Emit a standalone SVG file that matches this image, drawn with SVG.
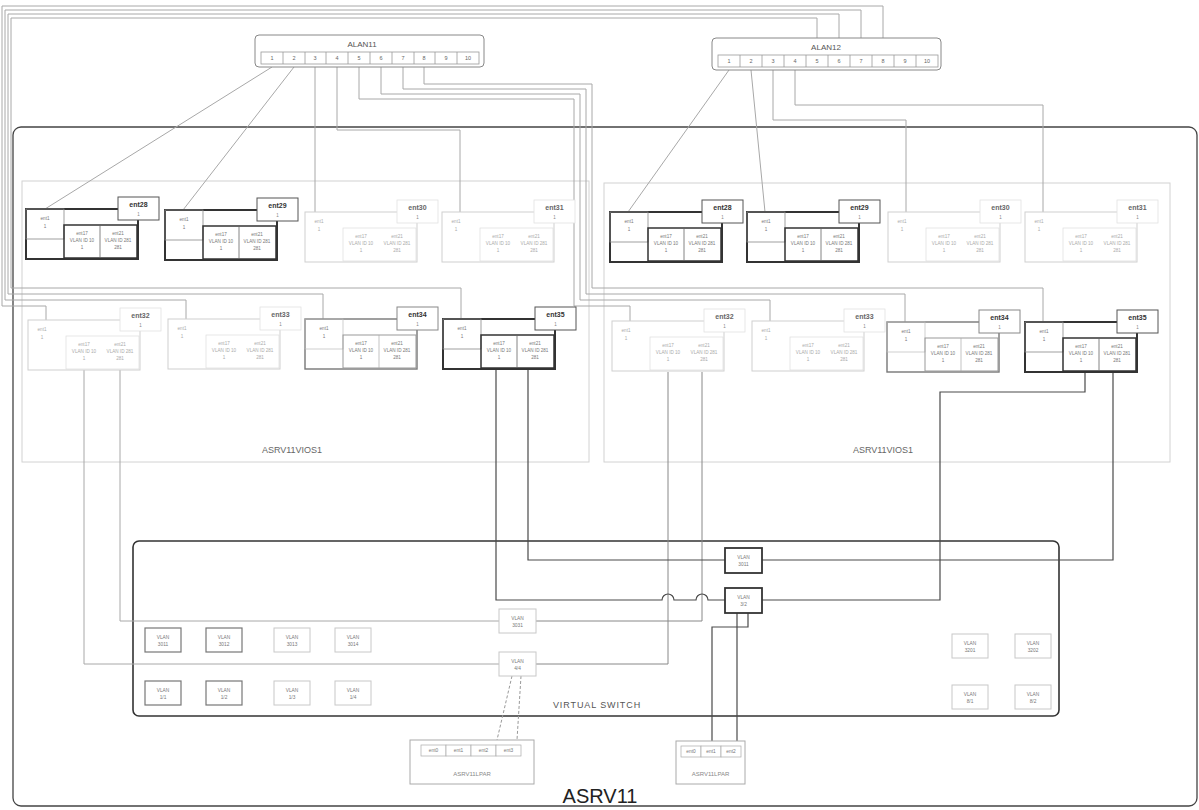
<svg xmlns="http://www.w3.org/2000/svg" xmlns:xlink="http://www.w3.org/1999/xlink" width="1199" height="810" viewBox="0 0 1199 810">
<style>
text{font-family:"Liberation Sans",Arial,sans-serif;text-anchor:middle}
.tx{font-size:4.6px;fill:#777}
.txl{font-size:4.6px;fill:#aaa}
.lb{font-size:7px;font-weight:bold;fill:#333}
.lbl{font-size:7px;font-weight:bold;fill:#666}
.lbs{font-size:4.5px;fill:#888}
.c{fill:none;stroke:#a8a8a8;stroke-width:1}
.cd{fill:none;stroke:#4a4a4a;stroke-width:1.2}
.cm{fill:none;stroke:#888;stroke-width:1}
.dash{fill:none;stroke:#999;stroke-width:1;stroke-dasharray:3 2}
.frame{fill:none;stroke:#444;stroke-width:1.3}
.vios{fill:none;stroke:#d2d2d2;stroke-width:1}
.vs{fill:none;stroke:#333;stroke-width:1.6}
.sw{fill:#fff;stroke:#888;stroke-width:1}
.port{fill:#fff;stroke:#999;stroke-width:0.8}
.pt{font-size:5.5px;fill:#666}
.swl{font-size:8px;fill:#555}
.vt{fill:#fff;stroke:#333;stroke-width:1.8}
.vm{fill:#fff;stroke:#777;stroke-width:1.2}
.vl{fill:#fff;stroke:#c8c8c8;stroke-width:1}
.vtx{font-size:4.8px;fill:#777}
.bx{fill:#fff;stroke:#aaa;stroke-width:1}
.cell{fill:#fff;stroke:#aaa;stroke-width:0.7}
</style>
<defs>
<g id="entT">
<rect x="0" y="0" width="112" height="50" fill="#fff" stroke="#333" stroke-width="2"/>
<rect x="0" y="0" width="38" height="30" fill="none" stroke="#888" stroke-width="0.8"/>
<rect x="38" y="16" width="73" height="33" fill="none" stroke="#333" stroke-width="1.5"/>
<line x1="74" y1="16" x2="74" y2="49" stroke="#666" stroke-width="0.8"/>
<rect x="92" y="-12" width="41" height="23" fill="#fff" stroke="#555" stroke-width="1"/>
<text class="tx" x="19" y="11">ent1</text><text class="tx" x="19" y="19">1</text>
<text class="tx" x="56" y="26">ent17</text><text class="tx" x="56" y="33">VLAN ID 10</text><text class="tx" x="56" y="40">1</text>
<text class="tx" x="92" y="26">ent21</text><text class="tx" x="92" y="33">VLAN ID 281</text><text class="tx" x="92" y="40">281</text>
</g>
<g id="entM">
<rect x="0" y="0" width="112" height="50" fill="#fff" stroke="#777" stroke-width="1.4"/>
<rect x="0" y="0" width="38" height="30" fill="none" stroke="#bbb" stroke-width="0.7"/>
<rect x="38" y="16" width="73" height="33" fill="none" stroke="#999" stroke-width="1"/>
<line x1="74" y1="16" x2="74" y2="49" stroke="#aaa" stroke-width="0.7"/>
<rect x="92" y="-12" width="41" height="23" fill="#fff" stroke="#888" stroke-width="1"/>
<text class="tx" x="19" y="11">ent1</text><text class="tx" x="19" y="19">1</text>
<text class="tx" x="56" y="26">ent17</text><text class="tx" x="56" y="33">VLAN ID 10</text><text class="tx" x="56" y="40">1</text>
<text class="tx" x="92" y="26">ent21</text><text class="tx" x="92" y="33">VLAN ID 281</text><text class="tx" x="92" y="40">281</text>
</g>
<g id="entL">
<rect x="0" y="0" width="112" height="50" fill="#fff" stroke="#cfcfcf" stroke-width="1"/>
<rect x="38" y="16" width="73" height="33" fill="none" stroke="#ddd" stroke-width="0.7"/>
<rect x="92" y="-12" width="41" height="23" fill="#fff" stroke="#e2e2e2" stroke-width="0.8"/>
<text class="txl" x="14" y="11">ent1</text><text class="txl" x="14" y="19">1</text>
<text class="txl" x="56" y="26">ent17</text><text class="txl" x="56" y="33">VLAN ID 10</text><text class="txl" x="56" y="40">1</text>
<text class="txl" x="92" y="26">ent21</text><text class="txl" x="92" y="33">VLAN ID 281</text><text class="txl" x="92" y="40">281</text>
</g>
</defs>
<rect width="1199" height="810" fill="#fff"/>

<g id="asrv11">
<rect class="frame" x="13" y="127" width="1184" height="679" rx="8"/>
<text x="600" y="803" style="font-size:20px;fill:#222">ASRV11</text>
</g>
<g id="vios-left">
<rect class="vios" x="22" y="181" width="567" height="281"/>
<text x="292" y="453" style="font-size:9px;fill:#666">ASRV11VIOS1</text>
</g>
<g id="vios-right">
<rect class="vios" x="604" y="183" width="566" height="279"/>
<text x="883" y="453" style="font-size:9px;fill:#666">ASRV11VIOS1</text>
</g>
<g id="virtual-switch">
<rect class="vs" x="133" y="541" width="926" height="175" rx="6"/>
<text x="597" y="708" style="font-size:9px;fill:#555;letter-spacing:0.9px">VIRTUAL SWITCH</text>
</g>

<g id="connectors">
<path class="c" d="M272 67 L45 209"/>
<path class="c" d="M294 67 L183 210"/>
<path class="c" d="M315 67 V212"/>
<path class="c" d="M337 67 V130 H460 V212"/>
<path class="c" d="M359 67 V99 H574 V306 H630 V321"/>
<path class="c" d="M381 67 V94 H580 V300 H770 V321"/>
<path class="c" d="M403 67 V89 H586 V294 H905 V322"/>
<path class="c" d="M424 67 V84 H592 V288 H1043 V322"/>
<path class="c" d="M729 70 L628 212"/>
<path class="c" d="M751 70 L765 212"/>
<path class="c" d="M773 70 V120 H906 V212"/>
<path class="c" d="M795 70 V105 H1043 V212"/>
<path class="c" d="M817 55 V18 H11 V288 H461 V319"/>
<path class="c" d="M839 55 V14 H8 V294 H323 V319"/>
<path class="c" d="M861 55 V10 H5 V300 H186 V319"/>
<path class="c" d="M883 55 V6 H2 V306 H46 V320"/>
<path class="c" d="M120 370 V621 H499"/>
<path class="c" d="M84 370 V664 H499"/>
<path class="cm" d="M702 372 V621 H536"/>
<path class="cm" d="M668 372 V664 H536"/>
<path class="cd" d="M528 370 V560 H725"/>
<path class="cd" d="M496 370 V600 H662 a6 6 0 0 1 12 0 H696 a6 6 0 0 1 12 0 H725"/>
<path class="cd" d="M1113 372 V560 H762"/>
<path class="cd" d="M1085 372 V392 H940 V600 H762"/>
<path class="cd" d="M748 613 V627 H712 V741"/>
<path class="cd" d="M737 613 V741"/>
<path class="dash" d="M512 676 L497 740"/>
<path class="dash" d="M521 676 L517 740"/>
</g>

<g id="alan11">
<rect class="sw" x="255" y="35" width="229" height="32" rx="4"/>
<text class="swl" x="362" y="47">ALAN11</text>
<rect class="port" x="261" y="52" width="218" height="12"/>
<path stroke="#999" stroke-width="0.8" d="M283 52V64M305 52V64M326 52V64M348 52V64M370 52V64M392 52V64M414 52V64M435 52V64M457 52V64"/>
<text class="pt" x="272" y="60">1</text><text class="pt" x="294" y="60">2</text><text class="pt" x="315" y="60">3</text><text class="pt" x="337" y="60">4</text><text class="pt" x="359" y="60">5</text><text class="pt" x="381" y="60">6</text><text class="pt" x="403" y="60">7</text><text class="pt" x="424" y="60">8</text><text class="pt" x="446" y="60">9</text><text class="pt" x="468" y="60">10</text>
</g>
<g id="alan12">
<rect class="sw" x="712" y="38" width="229" height="32" rx="4"/>
<text class="swl" x="826" y="50">ALAN12</text>
<rect class="port" x="718" y="55" width="220" height="12"/>
<path stroke="#999" stroke-width="0.8" d="M740 55V67M762 55V67M784 55V67M806 55V67M828 55V67M850 55V67M872 55V67M894 55V67M916 55V67"/>
<text class="pt" x="729" y="63">1</text><text class="pt" x="751" y="63">2</text><text class="pt" x="773" y="63">3</text><text class="pt" x="795" y="63">4</text><text class="pt" x="817" y="63">5</text><text class="pt" x="839" y="63">6</text><text class="pt" x="861" y="63">7</text><text class="pt" x="883" y="63">8</text><text class="pt" x="905" y="63">9</text><text class="pt" x="927" y="63">10</text>
</g>

<g id="l-ent28" transform="translate(26,209)"><use href="#entT"/><text class="lb" x="112.5" y="-2">ent28</text><text class="lbs" x="112.5" y="7">1</text></g>
<g id="l-ent29" transform="translate(165,210)"><use href="#entT"/><text class="lb" x="112.5" y="-2">ent29</text><text class="lbs" x="112.5" y="7">1</text></g>
<g id="l-ent30" transform="translate(305,212)"><use href="#entL"/><text class="lbl" x="112.5" y="-2">ent30</text><text class="lbs" x="112.5" y="7">1</text></g>
<g id="l-ent31" transform="translate(442,212)"><use href="#entL"/><text class="lbl" x="112.5" y="-2">ent31</text><text class="lbs" x="112.5" y="7">1</text></g>
<g id="r-ent28" transform="translate(610,212)"><use href="#entT"/><text class="lb" x="112.5" y="-2">ent28</text><text class="lbs" x="112.5" y="7">1</text></g>
<g id="r-ent29" transform="translate(747,212)"><use href="#entT"/><text class="lb" x="112.5" y="-2">ent29</text><text class="lbs" x="112.5" y="7">1</text></g>
<g id="r-ent30" transform="translate(888,212)"><use href="#entL"/><text class="lbl" x="112.5" y="-2">ent30</text><text class="lbs" x="112.5" y="7">1</text></g>
<g id="r-ent31" transform="translate(1025,212)"><use href="#entL"/><text class="lbl" x="112.5" y="-2">ent31</text><text class="lbs" x="112.5" y="7">1</text></g>

<g id="l-ent32" transform="translate(28,320)"><use href="#entL"/><text class="lbl" x="112.5" y="-2">ent32</text><text class="lbs" x="112.5" y="7">1</text></g>
<g id="l-ent33" transform="translate(168,319)"><use href="#entL"/><text class="lbl" x="112.5" y="-2">ent33</text><text class="lbs" x="112.5" y="7">1</text></g>
<g id="l-ent34" transform="translate(305,319)"><use href="#entM"/><text class="lb" x="112.5" y="-2">ent34</text><text class="lbs" x="112.5" y="7">1</text></g>
<g id="l-ent35" transform="translate(443,319)"><use href="#entT"/><text class="lb" x="112.5" y="-2">ent35</text><text class="lbs" x="112.5" y="7">1</text></g>
<g id="r-ent32" transform="translate(612,321)"><use href="#entL"/><text class="lbl" x="112.5" y="-2">ent32</text><text class="lbs" x="112.5" y="7">1</text></g>
<g id="r-ent33" transform="translate(752,321)"><use href="#entL"/><text class="lbl" x="112.5" y="-2">ent33</text><text class="lbs" x="112.5" y="7">1</text></g>
<g id="r-ent34" transform="translate(887,322)"><use href="#entM"/><text class="lb" x="112.5" y="-2">ent34</text><text class="lbs" x="112.5" y="7">1</text></g>
<g id="r-ent35" transform="translate(1025,322)"><use href="#entT"/><text class="lb" x="112.5" y="-2">ent35</text><text class="lbs" x="112.5" y="7">1</text></g>

<g id="vlan-a"><rect class="vt" x="725" y="548" width="37" height="25"/><text class="vtx" x="743.5" y="559">VLAN</text><text class="vtx" x="743.5" y="566">3011</text></g>
<g id="vlan-b"><rect class="vt" x="725" y="588" width="37" height="25"/><text class="vtx" x="743.5" y="599">VLAN</text><text class="vtx" x="743.5" y="606">3/2</text></g>
<g id="vlan-c"><rect class="vl" x="499" y="609" width="37" height="24"/><text class="vtx" x="517.5" y="620">VLAN</text><text class="vtx" x="517.5" y="627">3031</text></g>
<g id="vlan-d"><rect class="vl" x="499" y="652" width="37" height="24"/><text class="vtx" x="517.5" y="663">VLAN</text><text class="vtx" x="517.5" y="670">4/4</text></g>
<g id="vlan-1"><rect class="vm" x="145" y="628" width="36" height="24"/><text class="vtx" x="163" y="639">VLAN</text><text class="vtx" x="163" y="646">3011</text></g>
<g id="vlan-2"><rect class="vm" x="206" y="628" width="36" height="24"/><text class="vtx" x="224" y="639">VLAN</text><text class="vtx" x="224" y="646">3012</text></g>
<g id="vlan-3"><rect class="vl" x="274" y="628" width="36" height="24"/><text class="vtx" x="292" y="639">VLAN</text><text class="vtx" x="292" y="646">3013</text></g>
<g id="vlan-4"><rect class="vl" x="335" y="628" width="36" height="24"/><text class="vtx" x="353" y="639">VLAN</text><text class="vtx" x="353" y="646">3014</text></g>
<g id="vlan-5"><rect class="vm" x="145" y="681" width="36" height="24"/><text class="vtx" x="163" y="692">VLAN</text><text class="vtx" x="163" y="699">1/1</text></g>
<g id="vlan-6"><rect class="vm" x="206" y="681" width="36" height="24"/><text class="vtx" x="224" y="692">VLAN</text><text class="vtx" x="224" y="699">1/2</text></g>
<g id="vlan-7"><rect class="vl" x="274" y="681" width="36" height="24"/><text class="vtx" x="292" y="692">VLAN</text><text class="vtx" x="292" y="699">1/3</text></g>
<g id="vlan-8"><rect class="vl" x="335" y="681" width="36" height="24"/><text class="vtx" x="353" y="692">VLAN</text><text class="vtx" x="353" y="699">1/4</text></g>
<g id="vlan-9"><rect class="vl" x="952" y="634" width="36" height="24"/><text class="vtx" x="970" y="645">VLAN</text><text class="vtx" x="970" y="652">3201</text></g>
<g id="vlan-10"><rect class="vl" x="1015" y="634" width="36" height="24"/><text class="vtx" x="1033" y="645">VLAN</text><text class="vtx" x="1033" y="652">3202</text></g>
<g id="vlan-11"><rect class="vl" x="952" y="685" width="36" height="24"/><text class="vtx" x="970" y="696">VLAN</text><text class="vtx" x="970" y="703">8/1</text></g>
<g id="vlan-12"><rect class="vl" x="1015" y="685" width="36" height="24"/><text class="vtx" x="1033" y="696">VLAN</text><text class="vtx" x="1033" y="703">8/2</text></g>

<g id="box-1">
<rect class="bx" x="410" y="740" width="124" height="44"/>
<rect class="cell" x="421" y="745" width="25" height="11"/><rect class="cell" x="446" y="745" width="25" height="11"/><rect class="cell" x="471" y="745" width="25" height="11"/><rect class="cell" x="496" y="745" width="25" height="11"/>
<text class="vtx" x="433.5" y="752">ent0</text><text class="vtx" x="458.5" y="752">ent1</text><text class="vtx" x="483.5" y="752">ent2</text><text class="vtx" x="508.5" y="752">ent3</text>
<text x="472" y="776" style="font-size:6px;fill:#888">ASRV11LPAR</text>
</g>
<g id="box-2">
<rect class="bx" x="676" y="741" width="69" height="43"/>
<rect class="cell" x="681" y="746" width="20" height="11"/><rect class="cell" x="701" y="746" width="20" height="11"/><rect class="cell" x="721" y="746" width="20" height="11"/>
<text class="vtx" x="691" y="753">ent0</text><text class="vtx" x="711" y="753">ent1</text><text class="vtx" x="731" y="753">ent2</text>
<text x="710.5" y="776" style="font-size:6px;fill:#888">ASRV11LPAR</text>
</g>
</svg>
